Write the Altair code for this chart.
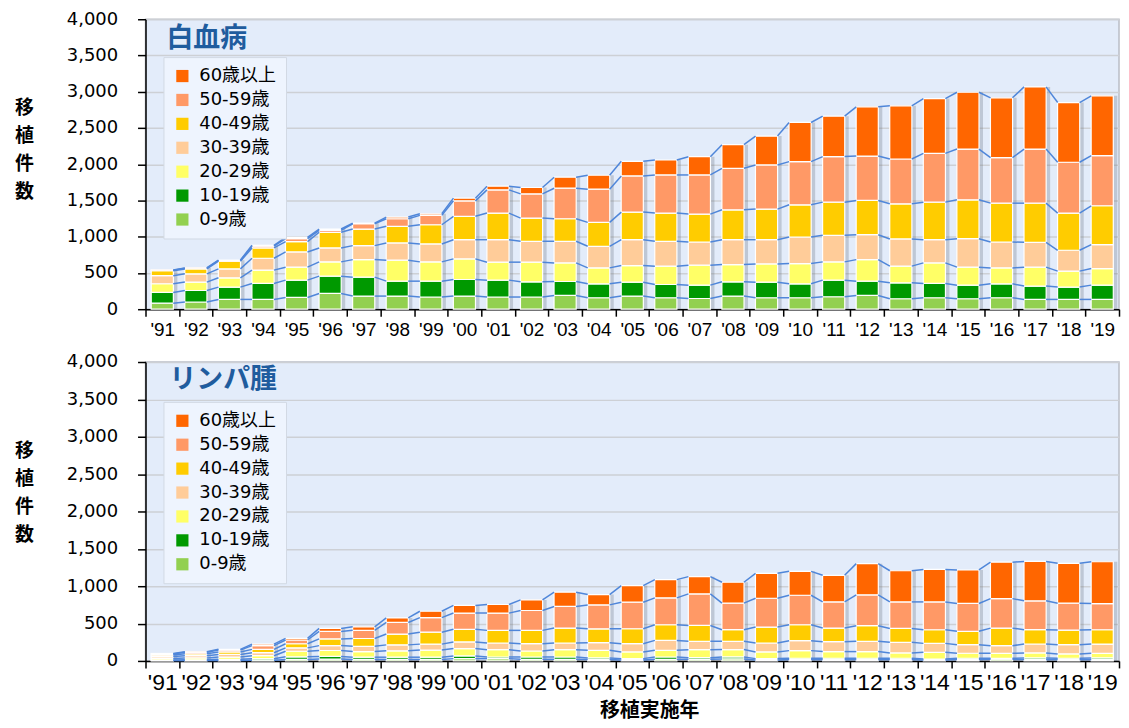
import altair as alt
import pandas as pd

years = ["'91", "'92", "'93", "'94", "'95", "'96", "'97", "'98", "'99", "'00",
         "'01", "'02", "'03", "'04", "'05", "'06", "'07", "'08", "'09", "'10",
         "'11", "'12", "'13", "'14", "'15", "'16", "'17", "'18", "'19"]
ages = ["0-9歳", "10-19歳", "20-29歳", "30-39歳", "40-49歳", "50-59歳", "60歳以上"]
colors = ["#92D050", "#009900", "#FFFF66", "#FFCC99", "#FFCC00", "#FF9966", "#FF6600"]

# 白血病 (leukemia) by age group
leuk_0_9 = [83, 99, 135, 135, 162, 217, 181, 181, 168, 181, 168, 168, 190, 158, 181, 158, 148, 181, 158, 158, 172, 190, 144, 158, 144, 158, 135, 135, 135]
leuk_10_19 = [148, 159, 170, 220, 239, 239, 261, 206, 219, 229, 233, 210, 192, 192, 192, 183, 184, 197, 215, 192, 229, 197, 220, 197, 188, 192, 184, 170, 197]
leuk_20_29 = [120, 116, 128, 184, 179, 197, 242, 289, 266, 284, 248, 271, 257, 220, 229, 253, 275, 238, 252, 279, 252, 297, 230, 284, 248, 220, 261, 220, 229]
leuk_30_39 = [111, 114, 123, 164, 210, 192, 193, 238, 247, 265, 310, 288, 298, 298, 357, 343, 320, 343, 334, 367, 366, 344, 375, 320, 393, 357, 343, 288, 330]
leuk_40_49 = [69, 68, 106, 142, 142, 216, 229, 229, 265, 322, 367, 320, 311, 330, 381, 389, 385, 412, 422, 444, 458, 472, 485, 518, 536, 536, 540, 513, 536]
leuk_50_59 = [8, 10, 10, 25, 41, 27, 73, 105, 129, 214, 320, 334, 421, 458, 499, 526, 540, 573, 609, 596, 628, 613, 618, 673, 700, 628, 746, 701, 692]
leuk_60 = [3, 4, 4, 12, 19, 18, 8, 23, 22, 37, 51, 88, 152, 192, 201, 206, 252, 326, 398, 540, 558, 679, 734, 756, 784, 825, 858, 824, 824]

# リンパ腫 (lymphoma) by age group
lym_0_9 = [5, 5, 7, 10, 20, 25, 20, 20, 20, 31, 31, 22, 22, 18, 13, 22, 22, 27, 13, 18, 18, 18, 18, 13, 18, 22, 18, 18, 18]
lym_10_19 = [8, 10, 15, 20, 35, 35, 30, 30, 30, 36, 22, 31, 31, 22, 18, 31, 22, 27, 18, 18, 18, 18, 18, 13, 18, 13, 22, 18, 22]
lym_20_29 = [20, 25, 30, 40, 75, 80, 75, 85, 95, 98, 98, 80, 98, 102, 89, 89, 107, 98, 89, 102, 89, 89, 71, 89, 67, 67, 67, 58, 62]
lym_30_39 = [25, 30, 35, 40, 45, 65, 70, 80, 80, 89, 89, 98, 89, 102, 111, 133, 111, 111, 120, 133, 133, 138, 142, 120, 115, 102, 120, 124, 124]
lym_40_49 = [20, 25, 33, 45, 55, 90, 105, 145, 160, 169, 169, 178, 200, 186, 200, 209, 213, 155, 213, 213, 182, 209, 186, 182, 178, 235, 191, 195, 191]
lym_50_59 = [15, 20, 25, 50, 50, 100, 110, 155, 195, 218, 231, 266, 289, 320, 355, 360, 422, 355, 386, 395, 351, 413, 355, 373, 373, 395, 386, 360, 351]
lym_60 = [7, 8, 10, 20, 22, 40, 47, 60, 85, 102, 115, 142, 191, 138, 222, 244, 231, 280, 333, 320, 355, 417, 417, 435, 448, 488, 528, 533, 559]

leuk = [leuk_0_9, leuk_10_19, leuk_20_29, leuk_30_39, leuk_40_49, leuk_50_59, leuk_60]
lym = [lym_0_9, lym_10_19, lym_20_29, lym_30_39, lym_40_49, lym_50_59, lym_60]

NUM_FONT = "DejaVu Sans"
JP_FONT = "Noto Sans CJK JP"
LBL_FONT = '"DejaVu Sans", "Noto Sans CJK JP"'
W = 977


def build(series):
    rows = []
    for i, y in enumerate(years):
        for k, a in enumerate(ages):
            rows.append(dict(year=y, idx=i, age=a, k=k, value=series[k][i]))
    df = pd.DataFrame(rows)
    cum = df.pivot(index="idx", columns="k", values="value").cumsum(axis=1)
    conn = []
    for i in range(len(years) - 1):
        for k in range(len(ages)):
            conn.append(dict(year=years[i], next_year=years[i + 1],
                             c0=float(cum.loc[i, k]), c1=float(cum.loc[i + 1, k])))
    tot = df.groupby(["idx", "year"], as_index=False)["value"].sum()
    return df, pd.DataFrame(conn), tot


def panel(name, series, h, xlab_size, xtitle, legy, tx, ty):
    df, conn, tot = build(series)
    yscale = alt.Scale(domain=[0, 4000], nice=False)
    yaxis = alt.Axis(values=list(range(0, 4001, 500)),
                     labelExpr="format(datum.value, ',')",
                     title=["移", "植", "件", "数"], titleAngle=0,
                     titleFont=JP_FONT, titleFontSize=19, titleFontWeight="bold",
                     titleLineHeight=28, titleAlign="center", titleBaseline="top",
                     titleX=-122, titleY=80,
                     labelFont=NUM_FONT, labelFontSize=18, labelPadding=20,
                     tickSize=8, grid=True, gridColor="#cdd0d5", gridWidth=1.5)
    xaxis_kw = dict(labelAngle=0, tickBand="extent", labelFont="Liberation Sans",
                    labelFontSize=xlab_size, labelPadding=4, tickSize=7, grid=False)
    if xtitle:
        xaxis = alt.Axis(title=xtitle, titleFont=JP_FONT, titleFontSize=20,
                         titleFontWeight="bold", titlePadding=6, titleX=W / 2 + 17, **xaxis_kw)
    else:
        xaxis = alt.Axis(title=None, **xaxis_kw)
    xscale = alt.Scale(domain=years, paddingInner=0, paddingOuter=0)
    xenc = alt.X("year:N", scale=xscale, axis=xaxis)

    shadow = alt.Chart(tot).mark_bar(color="#5d6878", opacity=0.28, xOffset=4,
                                     width=alt.RelativeBandSize(0.66)).encode(
        x=xenc, y=alt.Y("value:Q", scale=yscale, axis=yaxis))

    bars = alt.Chart(df).mark_bar(width=alt.RelativeBandSize(0.66), stroke="white",
                                  strokeWidth=1.2).encode(
        x=xenc,
        y=alt.Y("value:Q", stack="zero", scale=yscale, axis=yaxis),
        color=alt.Color("age:N",
                        scale=alt.Scale(domain=ages[::-1], range=colors[::-1]),
                        legend=alt.Legend(orient="none", legendX=18, legendY=legy,
                                          title=None, fillColor="#EEF4FE",
                                          strokeColor="#d2d9e4", padding=10,
                                          symbolType="square", symbolSize=150,
                                          symbolStrokeWidth=0, labelFont=LBL_FONT,
                                          labelFontSize=18, rowPadding=6,
                                          labelOffset=8)),
        order=alt.Order("k:Q", sort="ascending"),
    )

    lines = alt.Chart(conn).mark_rule(color="#4f86d9", strokeWidth=1.5,
                                      xOffset=11, x2Offset=-11).encode(
        x=alt.X("year:N", scale=xscale, axis=xaxis),
        x2="next_year:N",
        y=alt.Y("c0:Q", scale=yscale, axis=yaxis),
        y2="c1:Q",
    )

    title = alt.Chart(pd.DataFrame({"t": [name]})).mark_text(
        align="left", baseline="middle", font=JP_FONT, fontSize=27,
        fontWeight="bold", color="#1f5c9e").encode(
        x=alt.value(tx), y=alt.value(ty), text="t:N")

    return alt.layer(shadow, bars, lines, title).properties(width=W, height=h)


top = panel("白血病", leuk, 291, 19, None, 38, 21, 20)
bottom = panel("リンパ腫", lym, 300, 23, "移植実施年", 40, 24, 18)

chart = alt.vconcat(top, bottom, spacing=12).resolve_scale(
    color="independent", x="independent", y="independent"
).resolve_legend(color="independent").properties(
    padding={"left": 5, "top": 0, "right": 0, "bottom": 0}
).configure_view(fill="#E3ECFA", stroke="#b9bec6", strokeWidth=1.5).configure_axis(
    domainColor="black", tickColor="black", labelColor="black", titleColor="black",
    domainWidth=1.5, tickWidth=1.5
)

chart.save("out.html", embed_options={"renderer": "svg", "actions": False})
